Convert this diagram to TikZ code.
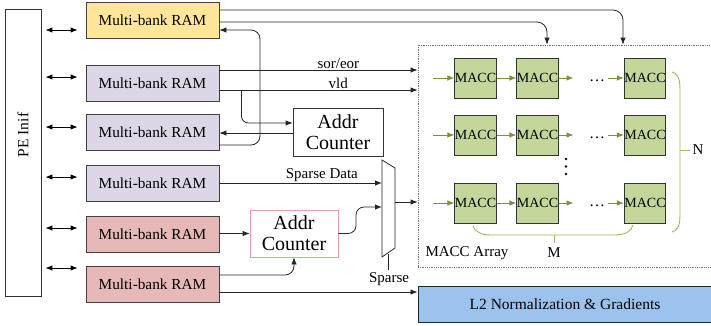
\documentclass[tikz,border=0pt]{standalone}
\usepackage{fontspec}
\setmainfont{Liberation Serif}
\usetikzlibrary{arrows.meta}
\definecolor{ramY}{HTML}{FFE699}
\definecolor{ramL}{HTML}{DCD6E6}
\definecolor{ramP}{HTML}{E6B9B8}
\definecolor{maccG}{HTML}{C4D79B}
\definecolor{gArr}{HTML}{77933C}
\definecolor{gBr}{HTML}{9BBB59}
\definecolor{l2B}{HTML}{9CC3EE}
\definecolor{acP}{HTML}{E8A0A0}
\begin{document}
\begin{tikzpicture}[x=1pt,y=-1pt,
  ram/.style={draw=black!75, line width=0.8pt, minimum width=133pt, minimum height=36pt, inner sep=0pt, font=\fontsize{15.3}{16}\selectfont},
  acbox/.style={draw=black!80, line width=0.8pt, fill=white, align=center, inner sep=0pt, font=\fontsize{20}{21}\selectfont},
  macc/.style={draw=black!80, line width=0.8pt, fill=maccG, minimum width=41pt, minimum height=40pt, inner sep=0pt, font=\fontsize{14}{14}\selectfont},
  arr/.style={draw=black!85, line width=0.8pt, -{Latex[length=7pt,width=5.5pt]}},
  dbl/.style={draw=black, line width=0.9pt, {Latex[length=7pt,width=5.5pt]}-{Latex[length=7pt,width=5.5pt]}},
  garr/.style={draw=gArr, line width=0.9pt, -{Latex[length=7pt,width=5.5pt]}},
  brace/.style={draw=gBr, line width=0.9pt},
  lbl/.style={font=\fontsize{15}{16}\selectfont, inner sep=1pt}
]
\useasboundingbox (0,0) rectangle (711,325);

% PE interface
\node[draw=black!80, line width=0.8pt, minimum width=36pt, minimum height=287pt, inner sep=0pt] (pe) at (23,152.5) {};
\node[rotate=90, font=\fontsize{15.5}{16}\selectfont] (petext) at (23,135) {PE Inif};

% RAMs
\node[ram, fill=ramY] (ram1) at (152.5,20) {Multi-bank RAM};
\node[ram, fill=ramL] (ram2) at (152.5,83) {Multi-bank RAM};
\node[ram, fill=ramL] (ram3) at (152.5,132.5) {Multi-bank RAM};
\node[ram, fill=ramL] (ram4) at (152.5,183.5) {Multi-bank RAM};
\node[ram, fill=ramP] (ram5) at (152.5,234) {Multi-bank RAM};
\node[ram, fill=ramP] (ram6) at (152.5,284) {Multi-bank RAM};

% double arrows
\foreach \yy in {30,77,127,177,228,268}{
  \draw[dbl] ([xshift=4pt]pe.east |- 0,\yy) -- ([xshift=-8pt]ram1.west |- 0,\yy);
}

% MACC array box
\node[draw=black!55, densely dotted, line width=0.8pt, minimum width=312pt, minimum height=222pt, inner sep=0pt] (array) at (574,156) {};

% Addr counters
\node[acbox, minimum width=90pt, minimum height=48pt] (ac1) at (338,132) {Addr\\Counter};
\node[acbox, draw=acP, minimum width=88pt, minimum height=47pt] (ac2) at (294,233.5) {Addr\\Counter};

% L2 box
\node[draw=black!85, line width=0.9pt, fill=l2B, minimum width=294pt, minimum height=36pt, inner sep=0pt, font=\fontsize{15.5}{16}\selectfont] (l2) at (565,304) {L2 Normalization \& Gradients};

% RAM1 outputs to array top
\draw[arr, rounded corners=10pt] (ram1.east |- 0,10) -| (array.north -| 623,0);
\draw[arr, rounded corners=10pt] (ram1.east |- 0,22) -| (array.north -| 547,0);

% sor/eor and vld
\draw[arr] (ram2.east |- 0,70) -- (array.west |- 0,70) node[lbl, pos=0.6, above] {sor/eor};
\draw[arr] (ram2.east |- 0,90) -- (array.west |- 0,90) node[lbl, pos=0.6, above] {vld};
\draw[arr, rounded corners=7pt] ([xshift=22pt]ram2.east |- 0,90) |- (ac1.west |- 0,123);

% Addr counter 1 to RAM3, loop to RAM1
\draw[arr] (ac1.west |- 0,133) -- (ram3.east |- 0,133);
\draw[arr, rounded corners=9pt] (ram3.east |- 0,145) -- (260,145) -- (260,30) -- (ram1.east |- 0,30);

% Mux
\draw[draw=black!85, line width=0.8pt] (382,160) -- (395,168) -- (395,248) -- (382,257) -- cycle;
\coordinate (muxin1) at (382,183);
\coordinate (muxin2) at (382,207);
\coordinate (muxout) at (395,202);
\coordinate (muxsel) at (388.5,254);
\coordinate (selend) at (388.5,270);

\draw[arr] (ram4.east |- muxin1) -- (muxin1) node[lbl, pos=0.63, above] {Sparse Data};
\draw[arr] (ram5.east |- 0,233.5) -- (ac2.west);
\draw[arr, rounded corners=8pt] (ac2.east) -- (356,233.5) -- (356,207) -- (muxin2);
\draw[arr, rounded corners=9pt] (ram6.east |- 0,275) -| (ac2.south);
\draw[arr] (muxout) -- (array.west |- muxout);
\draw[draw=black!85, line width=0.8pt] (muxsel) -- (selend);
\node[lbl] (sparse) at (389,279) {Sparse};
\draw[arr] (ram6.east |- 0,292) -- (l2.west |- 0,292);

% MACC grid
\foreach \r/\yy in {1/78,2/135,3/203}{
  \node[macc] (m\r1) at (475.5,\yy) {MACC};
  \node[macc] (m\r2) at (537.5,\yy) {MACC};
  \node[macc] (m\r3) at (645,\yy) {MACC};
  \coordinate (gin\r) at (433,\yy);
  \draw[garr] (gin\r) -- (m\r1.west);
  \draw[garr] (m\r1.east) -- (m\r2.west);
  \draw[garr] (m\r2.east) -- ++(15,0);
  \node[font=\fontsize{16}{16}\selectfont, inner sep=0pt] (dots\r) at (597,\yy+3) {\dots};
  \draw[garr] ([xshift=-16pt]m\r3.west) -- (m\r3.west);
}
\foreach \yy in {159,166.5,174}{\fill[black] (566,\yy) circle (1.4);}

% N brace
\draw[brace] (672,72) .. controls (679,74) and (680,80) .. (680,92) -- (680,214) .. controls (680,226) and (678,230) .. (672,232);
\draw[brace] (680,150) -- (690,150);
\node[lbl] (nlbl) at (698,150) {N};

% M brace
\draw[brace] (473,226) .. controls (476,233) and (482,235) .. (492,235) -- (614,235) .. controls (625,235) and (631,232) .. (633,225);
\draw[brace] (554,235) -- (554,243);
\node[lbl] (mlbl) at (554,253) {M};
\node[lbl] (arrlbl) at (467,253) {MACC Array};

\end{tikzpicture}
\end{document}
